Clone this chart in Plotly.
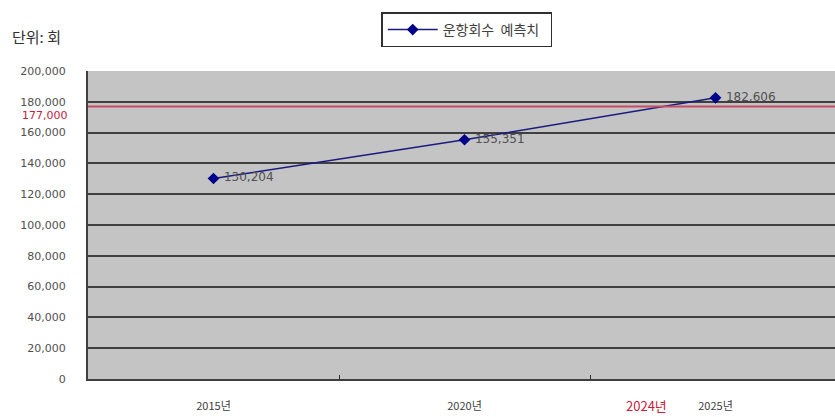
import plotly.graph_objects as go

categories = ["2015년", "2020년", "2025년"]
values = [130204, 155351, 182606]
value_labels = ["130,204", "155,351", "182,606"]
series_name = "운항회수  예측치  "
target_value = 177000
target_label = "177,000"
target_year_label = "2024년"
target_year_pos = 1.727
y_ticks = list(range(0, 200001, 20000))

x_pos = list(range(len(categories)))

fig = go.Figure()
fig.add_trace(go.Scatter(
    x=x_pos, y=values, mode="lines+markers+text", name=series_name,
    line=dict(color="#1a1a80", width=1.5),
    marker=dict(symbol="diamond", size=9, color="#00008b"),
    text=[" " + t for t in value_labels], textposition="middle right",
    textfont=dict(family="DejaVu Sans", size=12, color="#505050"),
    cliponaxis=False,
))

fig.add_shape(type="line", xref="paper", x0=0, x1=1, yref="y",
              y0=target_value, y1=target_value,
              line=dict(color="#c84a64", width=2), layer="above")

fig.add_annotation(xref="paper", x=0, xanchor="right", xshift=-19,
                   yref="y", y=target_value, yanchor="middle", yshift=-9,
                   text=target_label, showarrow=False, borderpad=0,
                   font=dict(family="DejaVu Sans", size=11, color="#c8203c"))
fig.add_annotation(xref="x", x=target_year_pos, yref="paper", y=0, yanchor="middle",
                   yshift=-26, text=target_year_label, showarrow=False,
                   font=dict(family="Noto Sans CJK KR", size=13, color="#c8203c"))
fig.add_annotation(xref="paper", x=-88/747, xanchor="left", xshift=10,
                   yref="paper", y=1, yanchor="bottom", yshift=22,
                   text="단위: 회", showarrow=False,
                   font=dict(family="Noto Sans CJK KR", size=15, color="#303030"))

fig.update_layout(
    width=835, height=417,
    margin=dict(l=88, r=0, t=71, b=38),
    paper_bgcolor="white", plot_bgcolor="#c4c4c4",
    showlegend=True,
    legend=dict(x=0.507, xanchor="center", y=1.19, yanchor="top",
                bgcolor="white", bordercolor="#303030", borderwidth=1.5,
                itemwidth=50,
                font=dict(family="Noto Sans CJK KR", size=14, color="#404040")),
    xaxis=dict(range=[-0.5, 2.476], tickmode="array", tickvals=x_pos, ticktext=categories,
               showgrid=False, zeroline=False, showline=True, linecolor="#404040", linewidth=2,
               ticks="", tickfont=dict(family="Noto Sans CJK KR", size=11, color="#404040"),
               minor=dict(tickmode="array", tickvals=[0.5, 1.5], ticks="inside",
                          ticklen=4, tickcolor="#303030", showgrid=False),
               ticklabelstandoff=16),
    yaxis=dict(range=[0, 200000], tickmode="array", tickvals=y_ticks,
               tickformat=",d", showgrid=True, gridcolor="#404040", gridwidth=2,
               zeroline=False, showline=True, linecolor="#404040", linewidth=2,
               ticks="", ticklabelstandoff=18,
               tickfont=dict(family="DejaVu Sans", size=11, color="#505050")),
)

fig.write_html("out.html")
